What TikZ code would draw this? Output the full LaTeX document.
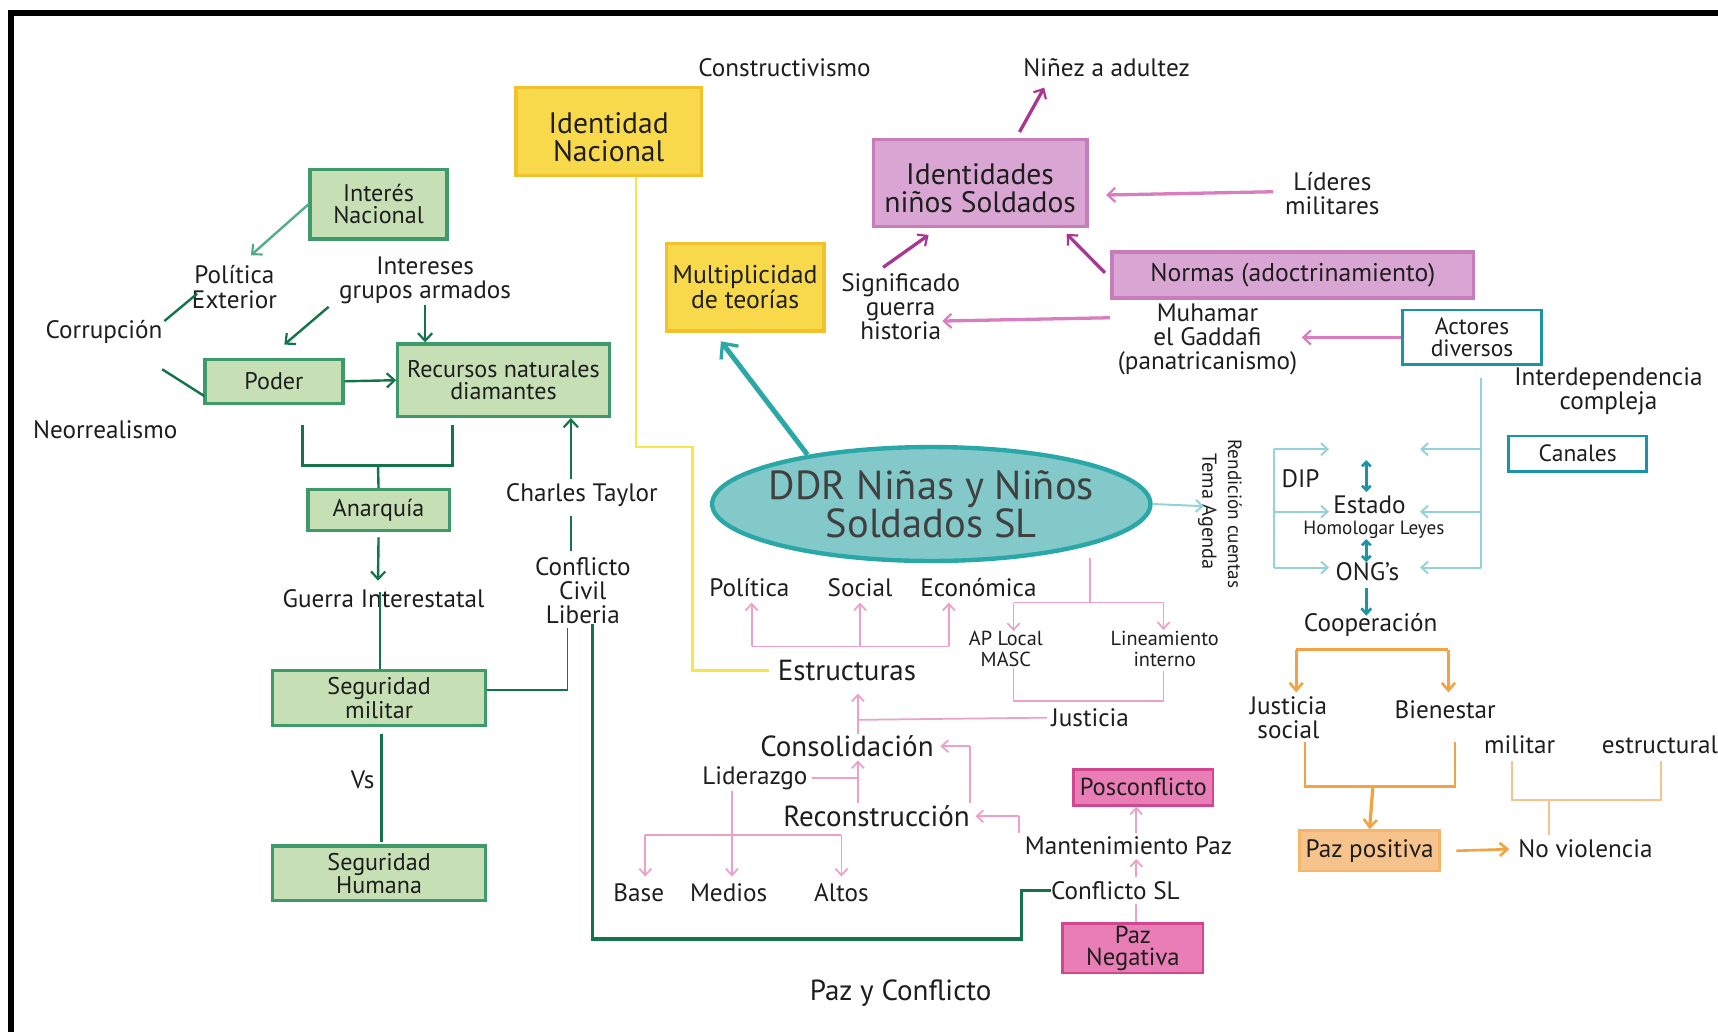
\documentclass[tikz,border=0pt]{standalone}
\usepackage{fontspec}
\setmainfont{PT Sans}
\usetikzlibrary{arrows.meta,calc,shapes.geometric}
\definecolor{gfill}{HTML}{C6DFB4}
\definecolor{gdraw}{HTML}{3E9A6A}
\definecolor{gdark}{HTML}{13744A}
\definecolor{glight}{HTML}{52AE86}
\definecolor{yfill}{HTML}{F9D94C}
\definecolor{ydraw}{HTML}{F2C12E}
\definecolor{yline}{HTML}{F2E84A}
\definecolor{pfill}{HTML}{D9A6D3}
\definecolor{pdraw}{HTML}{C77DBB}
\definecolor{pdark}{HTML}{A8378F}
\definecolor{plight}{HTML}{DA7DC0}
\definecolor{hfill}{HTML}{E97DB5}
\definecolor{hdraw}{HTML}{D2468F}
\definecolor{pthin}{HTML}{EEA0C8}
\definecolor{tfill}{HTML}{83C9C9}
\definecolor{tdraw}{HTML}{2AA8A8}
\definecolor{tlight}{HTML}{93D2DA}
\definecolor{tdark}{HTML}{1B95A5}
\definecolor{ora}{HTML}{F2A445}
\definecolor{orafill}{HTML}{F6C38C}
\definecolor{oralight}{HTML}{F6C48A}
\definecolor{txt}{HTML}{1E1E1E}
\begin{document}
\begin{tikzpicture}[x=1pt,y=-1pt,
  every node/.style={text=txt, inner sep=0pt, align=center},
  lbl/.style={font=\fontsize{23}{22}\selectfont},
  small/.style={font=\fontsize{18.5}{19}\selectfont},
  big/.style={font=\fontsize{26.5}{28}\selectfont},
  gbox/.style={draw=gdraw, fill=gfill, line width=3pt, font=\fontsize{22}{20}\selectfont},
  ybox/.style={draw=ydraw, fill=yfill, line width=3pt},
  pbox/.style={draw=pdraw, fill=pfill, line width=3pt},
  hbox/.style={draw=hdraw, fill=hfill, line width=2.5pt, font=\fontsize{22.5}{20}\selectfont},
  tbox/.style={draw=tdark, fill=white, line width=2.5pt, font=\fontsize{21.5}{20}\selectfont},
  tip/.style={-{Straight Barb[length=7pt,width=13pt,line width=2pt]}},
  gline/.style={draw=gdark, line width=2.2pt},
  garr/.style={gline, tip},
  glarr/.style={draw=glight, line width=2.2pt, tip},
  parr/.style={draw=pdark, line width=3pt, tip},
  plarr/.style={draw=plight, line width=3pt, tip},
  pl/.style={draw=pthin, line width=1.6pt},
  plarrow/.style={pl, -{Straight Barb[length=6pt,width=11pt,line width=1.6pt]}},
  tl/.style={draw=tlight, line width=1.8pt},
  tlarrow/.style={tl, -{Straight Barb[length=6pt,width=11pt,line width=1.8pt]}},
  ol/.style={draw=ora, line width=2.4pt},
  olarrow/.style={ol, -{Straight Barb[length=7pt,width=12pt,line width=2.4pt]}},
  oll/.style={draw=oralight, line width=2.4pt}
]
\useasboundingbox (0,0) rectangle (1568,942);
\fill[white] (0,0) rectangle (1568,942);
\draw[line width=5pt] (10,942) -- (10,12) -- (1568,12);

% ---------- nodes ----------
\node[lbl] (constr) at (716,62) {Constructivismo};
\node[lbl] (ninez) at (1010,62) {Niñez a adultez};
\node[ybox, minimum width=169, minimum height=80] (idnac) at (555.5,120) {};
\node[font=\fontsize{27}{26}\selectfont] (idnactext) at ($(idnac)+(0,5)$) {Identidad\\Nacional};
\node[pbox, minimum width=195, minimum height=80] (idsol) at (894.5,167) {};
\node[font=\fontsize{27}{26}\selectfont] (idsoltext) at ($(idsol)+(0,5)$) {Identidades\\niños Soldados};
\node[lbl] (lideres) at (1216,177) {Líderes\\militares};
\node[gbox, minimum width=125, minimum height=63] (intnac) at (345.5,186.5) {Interés\\Nacional};
\node[lbl] (polext) at (214,262) {Política\\Exterior};
\node[lbl] (intgr) at (388,256) {Intereses\\grupos armados};
\node[ybox, minimum width=144, minimum height=80, font=\fontsize{23.5}{22}\selectfont] (multi) at (680,262) {Multiplicidad\\de teorías};
\node[lbl] (signif) at (822,280) {Significado\\guerra\\historia};
\node[pbox, minimum width=330, minimum height=42, font=\fontsize{23.4}{22}\selectfont] (normas) at (1180,251) {Normas (adoctrinamiento)};
\node[lbl] (muham) at (1102,310) {Muhamar\\el Gaddafi\\(panatricanismo)};
\node[tbox, minimum width=127, minimum height=50] (actores) at (1343.5,308) {Actores\\diversos};
\node[lbl] (interd) at (1468,357) {Interdependencia\\compleja};
\node[tbox, minimum width=126, minimum height=32] (canales) at (1440,414) {Canales};
\node[lbl] (corrup) at (95,303) {Corrupción};
\node[gbox, minimum width=126, minimum height=40] (poder) at (250,348) {Poder};
\node[gbox, minimum width=193, minimum height=66] (recursos) at (459.5,347) {Recursos naturales\\diamantes};
\node[lbl] (neorr) at (96,392) {Neorrealismo};
\node[gbox, minimum width=129, minimum height=37] (anarq) at (345.5,465.5) {Anarquía};
\node[lbl] (guerra) at (350,546) {Guerra Interestatal};
\node[gbox, minimum width=194, minimum height=50] (segmil) at (346,637) {Seguridad\\militar};
\node[lbl] (vs) at (331,712) {Vs};
\node[gbox, minimum width=194, minimum height=50] (seghum) at (346,797) {Seguridad\\Humana};
\node[lbl] (charles) at (531,452) {Charles Taylor};
\node[lbl] (conflib) at (532,539) {Conflicto\\Civil\\Liberia};
\node[ellipse, draw=tdraw, fill=tfill, line width=4pt, minimum width=400, minimum height=104] (ddr) at (850,460) {};
\node[font=\fontsize{37}{32}\selectfont, text=black!75] (ddrtext) at (ddr.center) {DDR Niñas y Niños\\Soldados SL};
\node[rotate=-90, font=\fontsize{17.5}{19}\selectfont] (rend) at (1127,469) {Rendición cuentas};
\node[rotate=-90, font=\fontsize{18.5}{19}\selectfont] (tema) at (1102,467) {Tema Agenda};
\node[lbl] (dip) at (1187,437) {DIP};
\node[lbl] (estado) at (1250,461) {Estado};
\node[font=\fontsize{17.5}{19}\selectfont] (homol) at (1254,484) {Homologar Leyes};
\node[lbl] (ongs) at (1248,522) {ONG’s};
\node[lbl] (coop) at (1251,570) {Cooperación};
\node[lbl] (justsoc) at (1176,655) {Justicia\\social};
\node[lbl] (bienes) at (1319,648) {Bienestar};
\node[lbl] (militar) at (1387,680) {militar};
\node[lbl] (estruct) at (1515,680) {estructural};
\node[draw=ora!80, fill=orafill, line width=2.5pt, minimum width=128, minimum height=37, font=\fontsize{23}{22}\selectfont] (pazpos) at (1250,776.5) {Paz positiva};
\node[lbl] (noviol) at (1447,775) {No violencia};
\node[lbl] (polit) at (684,536) {Política};
\node[lbl] (social) at (785,536) {Social};
\node[lbl] (econ) at (893,536) {Económica};
\node[small] (aploc) at (918,592) {AP Local\\MASC};
\node[small] (linea) at (1063,592) {Lineamiento\\interno};
\node[big] (estr) at (773,612) {Estructuras};
\node[lbl] (just) at (995,655) {Justicia};
\node[big] (consol) at (773,681) {Consolidación};
\node[lbl] (lider) at (689,710) {Liderazgo};
\node[big] (recon) at (800,745) {Reconstrucción};
\node[lbl] (mant) at (1030,772) {Mantenimiento Paz};
\node[lbl] (base) at (583,815) {Base};
\node[lbl] (medios) at (665,815) {Medios};
\node[lbl] (altos) at (768,815) {Altos};
\node[hbox, minimum width=127, minimum height=33] (poscon) at (1043.5,718.5) {Posconflicto};
\node[lbl] (confsl) at (1018,813) {Conflicto SL};
\node[hbox, minimum width=128, minimum height=45] (pazneg) at (1034,865.5) {Paz\\Negativa};
\node[big] (pyc) at (822,906) {Paz y Conflicto};

% ---------- green connectors ----------
\draw[glarr] (intnac.west) -- ($(polext)+(15,-29)$);
\draw[gline] ($(corrup)+(55,-10)$) -- ($(polext)+(-34,6)$);
\draw[garr] ($(intgr)+(-88,24)$) -- ($(poder.north east)+(-55,-12)$);
\draw[garr] ($(intgr)+(0,22)$) -- (intgr |- recursos.north);
\draw[gline] ($(corrup)+(53,34)$) -- ($(poder.south west)+(1,-8)$);
\draw[garr] (poder.east) -- (recursos.west);
\coordinate (brL) at (276,388);
\coordinate (brR) at (413,388);
\coordinate (brM) at (345,425);
\draw[gline] (brL) |- (brM) -| (brR);
\draw[gline] (brM) -- (anarq.north);
\draw[garr] ($(anarq.south)+(0,5)$) -- ($(guerra)+(-5,-16)$);
\draw[gline] ($(guerra)+(-3,-6)$) -- (segmil.north -| 347,0);
\draw[gline] ($(segmil.south)+(2,6)$) -- ($(seghum.north)+(2,-2)$);
\draw[gline, line width=1.6pt] ($(segmil.east)+(0,-7)$) -| ($(conflib.south)+(-14,4)$);
\draw[gline, line width=1.6pt] ($(conflib.north)+(-11,-6)$) -- ($(charles.south)+(-10,8)$);
\draw[garr] ($(charles.north)+(-10,-4)$) -- (recursos.south -| 521,0);
\draw[gline, line width=3pt] ($(conflib.south)+(9,0)$) |- (932,857) |- (confsl.west);

% ---------- yellow ----------
\draw[draw=yline, line width=2.4pt] ($(idnac.south)+(25,0)$) |- (632,408) |- ($(estr.west)+(-8,0)$);

% ---------- teal ----------
\draw[draw=tdraw, line width=4.5pt, -{Straight Barb[length=11pt,width=20pt,line width=3pt]}] (737,415) -- ($(multi.south)+(-22,8)$);
\draw[tlarrow] (ddr.east) -- ($(tema.north)+(-12,-5)$);
\coordinate (rtop) at (1352,345);
\draw[tl] (rtop) -- (1352,518);
\draw[tlarrow] (1352,410) -- (1296,410);
\draw[tlarrow] (1352,467) -- (1296,467);
\draw[tlarrow] (1352,518) -- (1296,518);
\draw[tl] (1163,410) -- (1163,518);
\draw[tlarrow] (1163,410) -- (1213,410);
\draw[tlarrow] (1163,467) -- (1213,467);
\draw[tlarrow] (1163,518) -- (1213,518);
\draw[draw=tdark, line width=2.4pt, {Straight Barb[length=4pt,width=8pt]}-{Straight Barb[length=4pt,width=8pt]}] (1247,420) -- (1247,449);
\draw[draw=tdark, line width=2.4pt, {Straight Barb[length=4pt,width=8pt]}-{Straight Barb[length=4pt,width=8pt]}] (1247,492) -- (1247,513);
\draw[draw=tdark, line width=2.4pt, -{Straight Barb[length=5pt,width=9pt]}] ($(ongs)+(-1,15)$) -- ($(coop)+(-4,-8)$);

% ---------- orange ----------
\draw[olarrow] (1183,593) -- (1183,632);
\draw[ol] (1183,593) -- (1322,593);
\draw[olarrow] (1322,593) -- (1322,632);
\draw[ol] (1191,677) |- (1253,718) -| (1328,677);
\draw[olarrow, line width=3pt] (1253,718) -- (pazpos.north);
\draw[olarrow] ($(pazpos.east)+(14,0)$) -- ($(noviol.west)+(-8,0)$);
\draw[oll] (1380,695) |- (1414,730) -| (1516,695);
\draw[oll, line width=1.8pt] (1414,730) -- (1414,762);

% ---------- purple / pink ----------
\draw[parr] ($(idsol.north)+(36,-5)$) -- ($(ninez)+(-57,18)$);
\draw[plarr] ($(lideres)+(-54,-2)$) -- ($(idsol.east)+(16,11)$);
\draw[parr] ($(signif)+(-16,-36)$) -- ($(idsol.south)+(-47,6)$);
\draw[parr] ($(normas.west)+(-5,-2)$) -- ($(idsol.south east)+(-20,5)$);
\draw[plarr] ($(muham)+(-89,-20)$) -- ($(signif)+(38,13)$);
\draw[plarr] (actores.west) -- ($(muham)+(86,-2)$);

% ---------- thin pink tree ----------
\draw[pl] ($(ddr.south)+(145,-5)$) -- (995,550);
\draw[pl] (925,550) -- (1062,550);
\draw[plarrow] (925,550) -- ($(aploc)+(7,-16)$);
\draw[plarrow] (1062,550) -- (1062,575);
\draw[pl] ($(aploc)+(7,18)$) |- (993,640) -| ($(linea)+(-1,20)$);
\draw[pl] ($(just.west)+(-4,0)$) -- (783,657);
\draw[plarrow] ($(consol)+(10,-11)$) -- ($(estr)+(10,21)$);
\draw[plarrow] (686,590) -- (686,550);
\draw[plarrow] (785,590) -- (785,550);
\draw[plarrow] (866,590) -- (866,550);
\draw[pl] (686,590) -- (866,590);
\draw[plarrow] ($(recon)+(-17,-12)$) -- ($(consol)+(10,13)$);
\draw[pl] ($(lider.east)+(4,0)$) -- (783,710);
\draw[pl] (885,733) -- (885,681);
\draw[plarrow] (885,681) -- ($(consol.east)+(6,0)$);
\draw[pl] (930,760) -- (930,745);
\draw[plarrow] (930,745) -- ($(recon.east)+(5,0)$);
\draw[plarrow] ($(lider)+(-21,12)$) -- ($(medios)+(3,-15)$);
\draw[pl] (589,762) -- (768,762);
\draw[plarrow] (589,762) -- ($(base)+(6,-15)$);
\draw[plarrow] (768,762) -- ($(altos)+(0,-15)$);
\draw[plarrow] ($(mant)+(7,-12)$) -- (poscon.south -| 1037,0);
\draw[plarrow] ($(confsl)+(19,-13)$) -- ($(mant)+(7,12)$);
\draw[pl] (pazneg.north -| 1037,0) -- ($(confsl)+(19,12)$);
\end{tikzpicture}
\end{document}
